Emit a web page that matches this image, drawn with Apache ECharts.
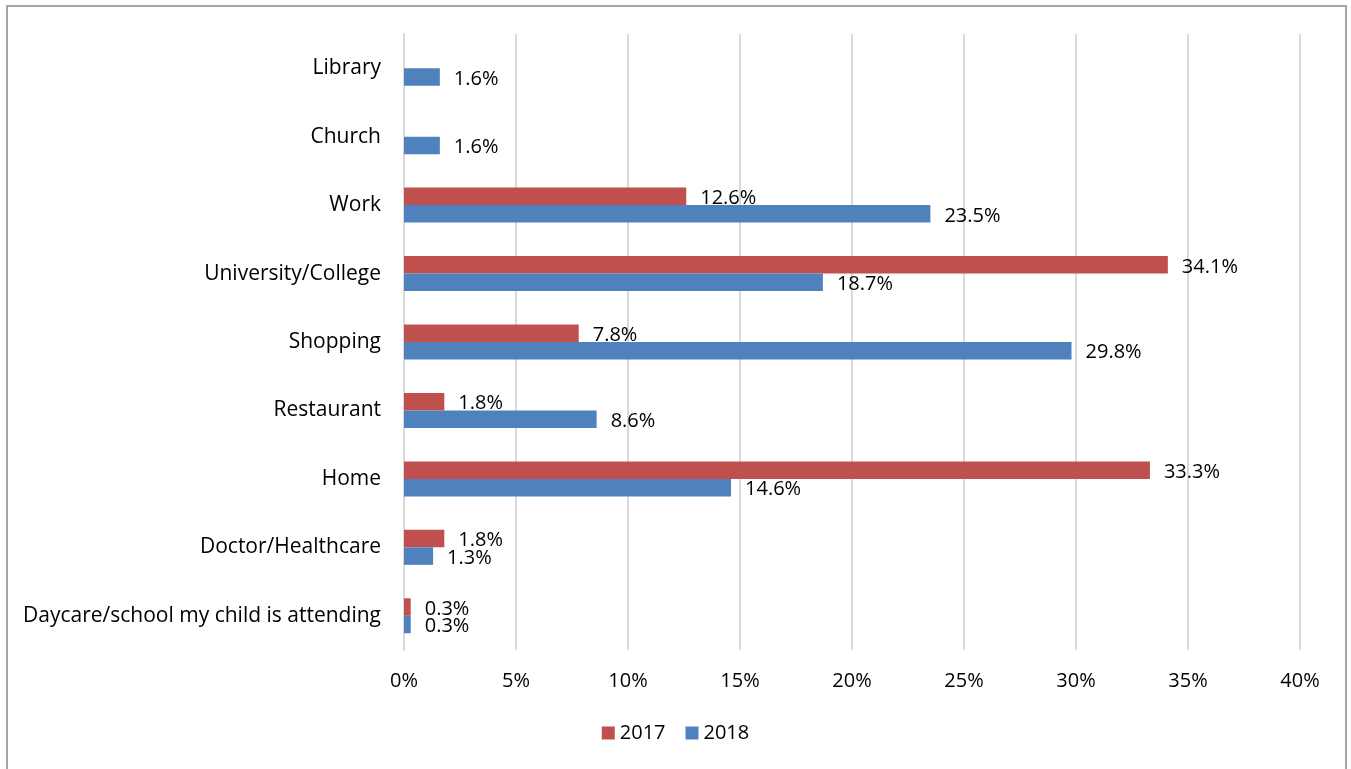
<!DOCTYPE html>
<html>
<head>
<meta charset="utf-8">
<script src="https://cdn.jsdelivr.net/npm/echarts@6/dist/echarts.min.js"></script>
<style>
  html, body { margin: 0; padding: 0; background: #fff; }
  #frame { position: absolute; left: 6px; top: 5px; width: 1341px; height: 780px; border: 2px solid #A6A6A6; box-sizing: border-box; }
  #chart { position: absolute; left: 0; top: 0; width: 1351px; height: 769px; }
</style>
</head>
<body>
<div id="frame"></div>
<div id="chart"></div>
<script>
// Places where respondents access the service, share of responses (%)
const categories = [
  'Daycare/school my child is attending',
  'Doctor/Healthcare',
  'Home',
  'Restaurant',
  'Shopping',
  'University/College',
  'Work',
  'Church',
  'Library'
];
const values2017 = [0.3, 1.8, 33.3, 1.8, 7.8, 34.1, 12.6, null, null];
const values2018 = [0.3, 1.3, 14.6, 8.6, 29.8, 18.7, 23.5, 1.6, 1.6];
const xTicks = [0, 5, 10, 15, 20, 25, 30, 35, 40];

const FONT = '"Open Sans", sans-serif';
const FONT_SIZE = 20;
const chart = echarts.init(document.getElementById('chart'), null, { renderer: 'canvas' });

const labelStyle = {
  show: true,
  position: 'right',
  distance: 14,
  offset: [0, 2],
  color: '#000',
  fontFamily: FONT,
  fontSize: FONT_SIZE,
  formatter: p => (p.value == null ? '' : p.value.toFixed(1) + '%')
};

chart.setOption({
  animation: false,
  textStyle: { fontFamily: FONT },
  grid: { left: 404, right: 51, top: 34, bottom: 119, containLabel: false },
  legend: {
    data: ['2017', '2018'],
    bottom: 21,
    left: 'center',
    icon: 'rect',
    itemWidth: 13,
    itemHeight: 13,
    itemGap: 20,
    textStyle: { fontFamily: FONT, fontSize: FONT_SIZE, color: '#000' }
  },
  xAxis: {
    type: 'value',
    min: xTicks[0],
    max: xTicks[xTicks.length - 1],
    interval: 5,
    axisLine: { show: false },
    axisTick: { show: false },
    splitLine: { show: true, lineStyle: { color: '#D9D9D9', width: 2 } },
    axisLabel: { color: '#000', fontFamily: FONT, fontSize: FONT_SIZE, margin: 21, formatter: v => v + '%' }
  },
  yAxis: {
    type: 'category',
    data: categories,
    axisLine: { show: true, lineStyle: { color: '#D9D9D9', width: 2 } },
    axisTick: { show: false },
    axisLabel: { color: '#000', fontFamily: FONT, fontSize: 21, margin: 23 }
  },
  series: [
    {
      name: '2017',
      type: 'bar',
      data: values2017,
      barWidth: 17.5,
      barGap: '0%',
      itemStyle: { color: '#C0504D' },
      label: labelStyle
    },
    {
      name: '2018',
      type: 'bar',
      data: values2018,
      barWidth: 17.5,
      barGap: '0%',
      itemStyle: { color: '#4F81BD' },
      label: labelStyle
    }
  ]
});
</script>
</body>
</html>
